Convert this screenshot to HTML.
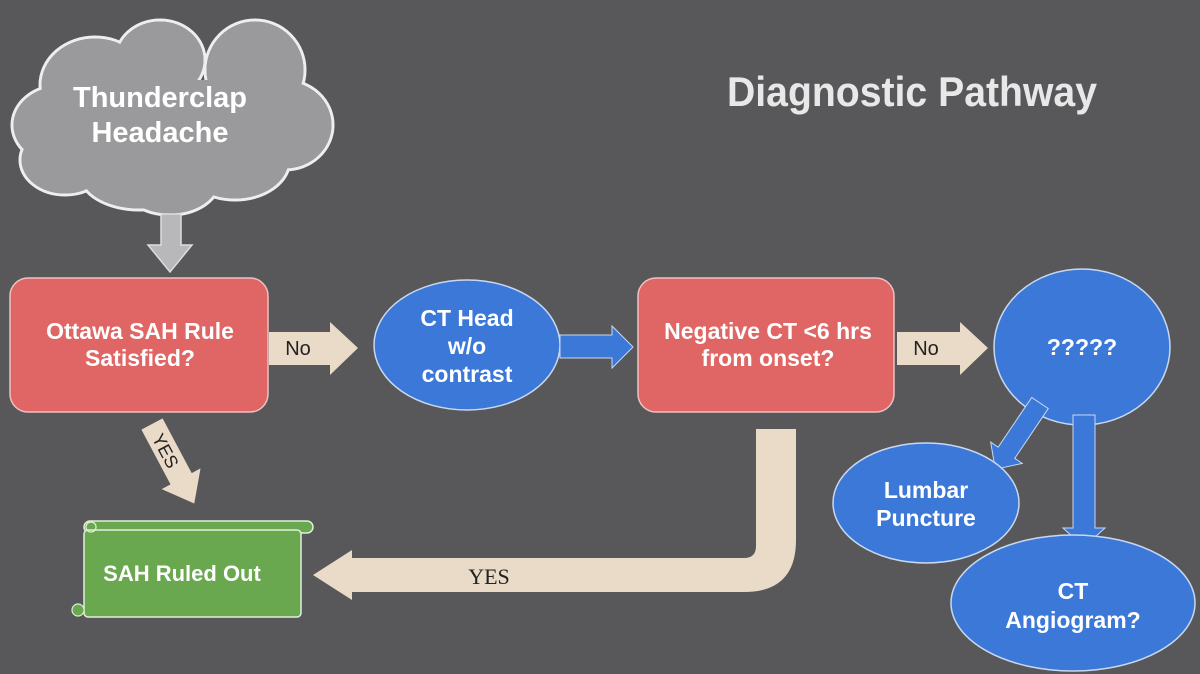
<!DOCTYPE html>
<html><head><meta charset="utf-8"><style>
html,body{margin:0;padding:0;background:#58585a;}
svg{display:block}
text{font-family:"Liberation Sans",Arial,sans-serif;font-weight:bold;fill:#fff;text-anchor:middle}
</style></head><body>
<svg width="1200" height="674" viewBox="0 0 1200 674" xmlns="http://www.w3.org/2000/svg">
<rect width="1200" height="674" fill="#58585a"/>
<text x="912" y="106" font-size="42" textLength="370" lengthAdjust="spacingAndGlyphs" style="fill:#e8e8e8">Diagnostic Pathway</text>

<!-- cloud -->
<g stroke="#eee" stroke-width="3" fill="#9a9a9c">
<ellipse cx="95" cy="85" rx="55" ry="48"/>
<ellipse cx="160" cy="60" rx="45" ry="40"/>
<ellipse cx="255" cy="70" rx="50" ry="50"/>
<ellipse cx="285" cy="125" rx="48" ry="45"/>
<ellipse cx="60" cy="125" rx="48" ry="40"/>
<ellipse cx="65" cy="160" rx="45" ry="35"/>
<ellipse cx="140" cy="175" rx="60" ry="35"/>
<ellipse cx="170" cy="180" rx="50" ry="35"/>
<ellipse cx="235" cy="160" rx="55" ry="40"/>
</g>
<g fill="#9a9a9c">
<ellipse cx="95" cy="85" rx="53.5" ry="46.5"/>
<ellipse cx="160" cy="60" rx="43.5" ry="38.5"/>
<ellipse cx="255" cy="70" rx="48.5" ry="48.5"/>
<ellipse cx="285" cy="125" rx="46.5" ry="43.5"/>
<ellipse cx="60" cy="125" rx="46.5" ry="38.5"/>
<ellipse cx="65" cy="160" rx="43.5" ry="33.5"/>
<ellipse cx="140" cy="175" rx="58.5" ry="33.5"/>
<ellipse cx="170" cy="180" rx="48.5" ry="33.5"/>
<ellipse cx="235" cy="160" rx="53.5" ry="38.5"/>
<rect x="70" y="80" width="200" height="95"/>
</g>
<text x="160" y="107" font-size="29">Thunderclap</text>
<text x="160" y="142" font-size="29">Headache</text>
<polygon points="161,214 181,214 181,245 192,245 170,272 148,245 161,245" fill="#b8b8ba" stroke="#ddd" stroke-width="1.5"/>

<!-- red boxes -->
<rect x="10" y="278" width="258" height="134" rx="18" fill="#e06666" stroke="#f0c0c0" stroke-width="1.5"/>
<text x="140" y="339" font-size="23">Ottawa SAH Rule</text>
<text x="140" y="366" font-size="23">Satisfied?</text>
<rect x="638" y="278" width="256" height="134" rx="18" fill="#e06666" stroke="#f0c0c0" stroke-width="1.5"/>
<text x="768" y="339" font-size="23">Negative CT &lt;6 hrs</text>
<text x="768" y="366" font-size="23">from onset?</text>

<!-- No arrows -->
<polygon points="269,332 330,332 330,322 358,348 330,375 330,365 269,365" fill="#eadbc8"/>
<text x="298" y="355" font-size="20" style="font-weight:normal;fill:#222">No</text>
<polygon points="897,332 960,332 960,322 988,348 960,375 960,365 897,365" fill="#eadbc8"/>
<text x="926" y="355" font-size="20" style="font-weight:normal;fill:#222">No</text>

<!-- blue ellipses -->
<ellipse cx="467" cy="345" rx="93" ry="65" fill="#3c78d8" stroke="#c8d8f0" stroke-width="1.5"/>
<text x="467" y="326" font-size="23">CT Head</text>
<text x="467" y="354" font-size="23">w/o</text>
<text x="467" y="382" font-size="23">contrast</text>
<polygon points="560,335 612,335 612,326 633,347 612,368 612,358 560,358" fill="#3c78d8" stroke="#c8d8f0" stroke-width="1"/>
<ellipse cx="1082" cy="347" rx="88" ry="78" fill="#3c78d8" stroke="#c8d8f0" stroke-width="1.5"/>
<text x="1082" y="355" font-size="23">?????</text>

<!-- branch arrows -->
<g transform="translate(1040,403) rotate(124)">
<polygon points="0,-10 60,-10 60,-19 80,0 60,19 60,10 0,10" fill="#3c78d8" stroke="#c8d8f0" stroke-width="1"/>
</g>
<polygon points="1073,415 1095,415 1095,528 1105,528 1084,547 1063,528 1073,528" fill="#3c78d8" stroke="#c8d8f0" stroke-width="1"/>
<ellipse cx="926" cy="503" rx="93" ry="60" fill="#3c78d8" stroke="#c8d8f0" stroke-width="1.5"/>
<text x="926" y="498" font-size="23">Lumbar</text>
<text x="926" y="526" font-size="23">Puncture</text>
<ellipse cx="1073" cy="603" rx="122" ry="68" fill="#3c78d8" stroke="#c8d8f0" stroke-width="1.5"/>
<text x="1073" y="599" font-size="23">CT</text>
<text x="1073" y="628" font-size="23">Angiogram?</text>

<!-- YES diagonal -->
<g transform="translate(152,424) rotate(62)">
<polygon points="0,-12 62,-12 62,-22 90,0 62,22 62,12 0,12" fill="#eadbc8"/>
<text x="30" y="7" font-size="18" style="font-weight:normal;fill:#222">YES</text>
</g>

<!-- green scroll -->
<rect x="84" y="521" width="229" height="12" rx="6" fill="#6aa84f" stroke="#e0efd8" stroke-width="1.5"/>
<rect x="84" y="530" width="217" height="87" rx="4" fill="#6aa84f" stroke="#e0efd8" stroke-width="1.5"/>
<circle cx="91" cy="527" r="5" fill="none" stroke="#e0efd8" stroke-width="1.2"/>
<circle cx="78" cy="610" r="6" fill="#6aa84f" stroke="#e0efd8" stroke-width="1.2"/>
<text x="182" y="581" font-size="22">SAH Ruled Out</text>

<!-- big curved YES arrow -->
<path d="M756,429 L796,429 L796,540 Q796,592 744,592 L352,592 L352,600 L313,575 L352,550 L352,558 L744,558 Q756,558 756,546 Z" fill="#eadbc8"/>
<text x="489" y="584" font-size="22" style="font-weight:normal;fill:#222;font-family:'Liberation Serif',serif">YES</text>
</svg>
</body></html>
